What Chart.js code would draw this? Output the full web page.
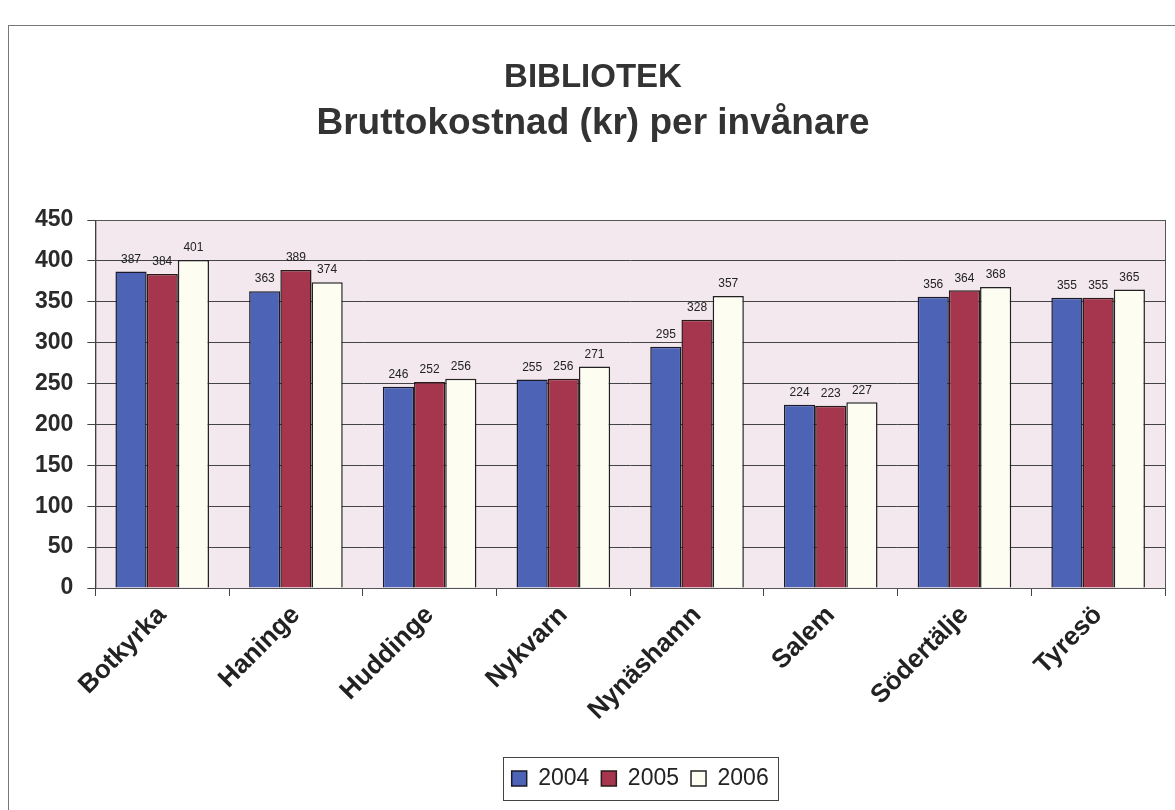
<!DOCTYPE html>
<html>
<head>
<meta charset="utf-8">
<script src="https://cdn.jsdelivr.net/npm/chart.js@4.4.0/dist/chart.umd.min.js"></script>
<style>
html,body{margin:0;padding:0;background:#fff;}
#wrap{width:1175px;height:810px;position:relative;}
</style>
</head>
<body>
<div id="wrap"><canvas id="c" width="1175" height="810"></canvas></div>
<script>
const categories = ["Botkyrka","Haninge","Huddinge","Nykvarn","Nynäshamn","Salem","Södertälje","Tyresö"];
const values2004 = [387,363,246,255,295,224,356,355];
const values2005 = [384,389,252,256,328,223,364,355];
const values2006 = [401,374,256,271,357,227,368,365];
const seriesNames = ["2004","2005","2006"];
const yTicks = [0,50,100,150,200,250,300,350,400,450];
const titleText = "BIBLIOTEK";
const subtitleText = "Bruttokostnad (kr) per invånare";

const FONT = "'Liberation Sans', Arial, sans-serif";

const framePlugin = {
  id:'frame',
  afterLayout(chart){
    const lg = chart.legend, a = chart.chartArea;
    if (lg) { lg.left = a.left + 10; lg.right = a.right + 10; lg.width = a.right - a.left; }
  },
  beforeDraw(chart){
    const ctx = chart.ctx;
    ctx.save();
    ctx.fillStyle = '#fff';
    ctx.fillRect(0,0,chart.width,chart.height);
    ctx.strokeStyle = '#777';
    ctx.lineWidth = 1;
    ctx.strokeRect(8.5,25.5,1170,790);
    const a = chart.chartArea;
    ctx.fillStyle = '#f2e8ed';
    ctx.fillRect(a.left,a.top,a.right-a.left,a.bottom-a.top);
    ctx.restore();
  },
  afterDraw(chart){
    const ctx = chart.ctx;
    const a = chart.chartArea;
    ctx.save();
    ctx.strokeStyle = '#555';
    ctx.lineWidth = 1;
    ctx.strokeRect(a.left+0.5,a.top+0.5,a.right-a.left,a.bottom-a.top);
    // legend frame around the items
    const hb = chart.legend.legendHitBoxes;
    if (hb && hb.length) {
      const l = Math.min(...hb.map(h=>h.left)) - 9;
      const r = Math.max(...hb.map(h=>h.left+h.width)) + 9;
      const t = Math.min(...hb.map(h=>h.top)) - 10;
      const b = Math.max(...hb.map(h=>h.top+h.height)) + 10;
      ctx.strokeStyle = '#444';
      ctx.strokeRect(Math.round(l)+0.5, Math.round(t)+0.5, Math.round(r-l), Math.round(b-t));
    }
    // data labels
    ctx.fillStyle = '#222';
    ctx.font = "12px " + FONT;
    ctx.textAlign = 'center';
    ctx.textBaseline = 'bottom';
    chart.data.datasets.forEach((ds,i)=>{
      const meta = chart.getDatasetMeta(i);
      meta.data.forEach((bar,j)=>{
        ctx.fillText(String(ds.data[j]), bar.x, bar.y - 6);
      });
    });
    ctx.restore();
  }
};

new Chart(document.getElementById('c'), {
  type:'bar',
  data:{
    labels:categories,
    datasets:[
      {label:seriesNames[0], data:values2004, backgroundColor:'#4c63b6', borderColor:'#1a1a2a', borderWidth:1.5},
      {label:seriesNames[1], data:values2005, backgroundColor:'#a5364e', borderColor:'#2a1a1a', borderWidth:1.5},
      {label:seriesNames[2], data:values2006, backgroundColor:'#fdfdf2', borderColor:'#222', borderWidth:1.5}
    ]
  },
  options:{
    responsive:false,
    animation:false,
    devicePixelRatio:1,
    layout:{padding:{left:21,right:10,top:0,bottom:10}},
    datasets:{bar:{categoryPercentage:0.7,barPercentage:1.0}},
    scales:{
      x:{
        grid:{display:true,drawOnChartArea:false,color:'#444',tickLength:8},
        border:{color:'#333'},
        ticks:{font:{family:FONT,size:26,weight:'bold'},color:'#222',minRotation:45,maxRotation:45,padding:4},
        afterFit(axis){ axis.height = 167; }
      },
      y:{
        min:0,max:450,
        afterBuildTicks(axis){axis.ticks = yTicks.map(v=>({value:v}));},
        grid:{color:'#444',lineWidth:1,tickLength:8},
        border:{color:'#222'},
        ticks:{font:{family:FONT,size:23,weight:'bold'},color:'#2a2a2a',padding:14}
      }
    },
    plugins:{
      title:{display:true,text:titleText,font:{family:FONT,size:33,weight:'bold'},color:'#333',padding:{top:58,bottom:4}},
      subtitle:{display:true,text:subtitleText,font:{family:FONT,size:37,weight:'bold'},color:'#333',padding:{top:0,bottom:74}},
      legend:{position:'bottom',labels:{font:{family:FONT,size:23},color:'#222',boxWidth:15,boxHeight:15,padding:12,useBorderRadius:false}},
      tooltip:{enabled:false}
    }
  },
  plugins:[framePlugin]
});
</script>
</body>
</html>
